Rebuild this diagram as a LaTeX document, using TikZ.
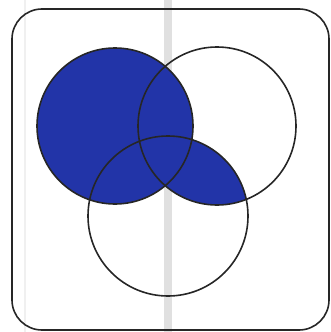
\documentclass[tikz,border=0pt]{standalone}
\definecolor{blueink}{RGB}{34,52,168}
\tikzset{
  ring/.style={draw=black!85,line width=1.6pt},
}
\begin{document}
\begin{tikzpicture}[x=1pt,y=-1pt]
\useasboundingbox (0,0) rectangle (331,332);
\fill[black!12] (164,0) rectangle (172,332);
\fill[black!6] (24,0) rectangle (26,332);
\coordinate (A) at (115,126);
\coordinate (B) at (217,126);
\coordinate (C) at (168,216);
% shading
\fill[blueink] (A) circle[radius=78];
\begin{scope}
  \clip (B) circle[radius=79];
  \fill[blueink] (C) circle[radius=80];
\end{scope}
% universe
\draw[ring,rounded corners=30pt] (12,9) rectangle (329,330);
\draw[ring] (A) circle[radius=78];
\draw[ring] (B) circle[radius=79];
\draw[ring] (C) circle[radius=80];
\end{tikzpicture}
\end{document}
